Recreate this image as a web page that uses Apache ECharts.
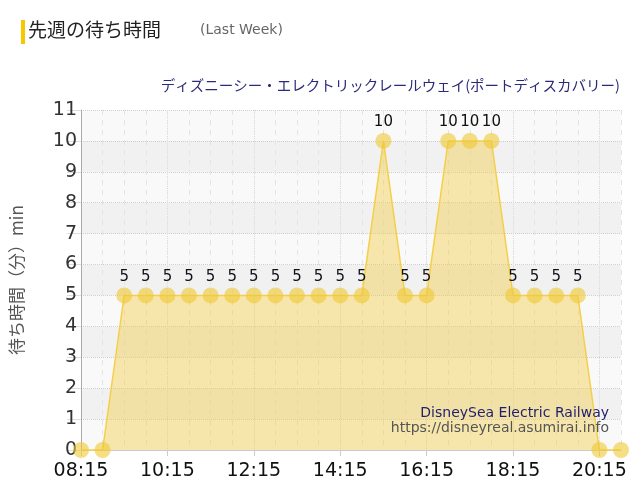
<!DOCTYPE html>
<html><head><meta charset="utf-8">
<script src="https://cdn.jsdelivr.net/npm/echarts@6/dist/echarts.min.js"></script>
<style>html,body{margin:0;padding:0;background:#fff}#c{width:640px;height:500px}</style>
</head><body><div id="c"></div>
<script>
const times = ['08:15','08:45','09:15','09:45','10:15','10:45','11:15','11:45','12:15','12:45','13:15','13:45','14:15','14:45','15:15','15:45','16:15','16:45','17:15','17:45','18:15','18:45','19:15','19:45','20:15','20:45'];
const waits = [0,0,5,5,5,5,5,5,5,5,5,5,5,5,10,5,5,10,10,10,5,5,5,5,0,0];
const yTicks = [0,1,2,3,4,5,6,7,8,9,10,11];
const titleText = '先週の待ち時間';
const titleSub = '(Last Week)';
const attraction = 'ディズニーシー・エレクトリックレールウェイ(ポートディスカバリー)';
const nameEn = 'DisneySea Electric Railway';
const site = 'https://disneyreal.asumirai.info';
const yName = '待ち時間（分）min';

const chart = echarts.init(document.getElementById('c'));
const jp = '"Noto Sans CJK JP", "DejaVu Sans", sans-serif';
const lat = '"DejaVu Sans", Verdana, sans-serif';
chart.setOption({
  animation: false,
  backgroundColor: '#fff',
  grid: {left: 80, right: 19, top: 110, bottom: 50},
  graphic: [
    {type: 'rect', left: 21, top: 20, shape: {width: 4, height: 24}, style: {fill: '#f5c800'}},
    {type: 'text', left: 28, top: 20, style: {text: titleText, font: '19px ' + jp, fill: '#222'}},
    {type: 'text', left: 200, top: 23, style: {text: titleSub, font: '14px ' + lat, fill: '#666'}},
    {type: 'text', right: 20, top: 78, style: {text: attraction, font: '14.5px ' + jp, fill: '#2b2a78'}},
    {type: 'text', right: 31, top: 406, z: 100, style: {text: nameEn, font: '14px ' + lat, fill: '#1f1e6e'}},
    {type: 'text', right: 31, top: 421, z: 100, style: {text: site, font: '14px ' + lat, fill: '#555'}}
  ],
  xAxis: [{
    type: 'category', data: times, boundaryGap: false,
    axisLine: {show: true, lineStyle: {color: '#ccc'}},
    axisTick: {show: true, interval: 3, length: 6, lineStyle: {color: '#ccc'}},
    axisLabel: {interval: 3, color: '#111', fontSize: 19, fontFamily: lat, margin: 12},
    splitLine: {show: true, interval: 3, lineStyle: {color: '#d8d8d8', type: 'dotted', width: 1}}
  }, {
    type: 'category', data: times, boundaryGap: false, position: 'bottom',
    axisLine: {show: false}, axisTick: {show: false}, axisLabel: {show: false},
    splitLine: {show: true, interval: 0, lineStyle: {color: '#e4e4e4', type: [5, 5], width: 1}}
  }],
  yAxis: {
    type: 'value', min: 0, max: 11, interval: 1,
    name: yName, nameLocation: 'middle', nameGap: 56,
    nameTextStyle: {color: '#555', fontSize: 17, fontFamily: jp},
    axisLine: {show: true, lineStyle: {color: '#aaa'}},
    axisTick: {show: true, length: 14, lineStyle: {color: '#ddd'}},
    axisLabel: {color: '#333', fontSize: 19, fontFamily: lat, margin: 4,
      formatter: v => yTicks.includes(v) ? String(v) : ''},
    splitLine: {show: true, lineStyle: {color: '#cfcfcf', type: 'dotted'}},
    splitArea: {show: true, areaStyle: {color: ['#f9f9f9', '#f1f1f1']}}
  },
  series: [{
    type: 'line', data: waits, xAxisIndex: 0,
    symbol: 'circle', symbolSize: 16, showSymbol: true, showAllSymbol: true,
    itemStyle: {color: 'rgba(240,200,50,0.6)'},
    lineStyle: {color: '#f5cf4a', width: 1.5},
    areaStyle: {color: 'rgba(242,205,70,0.62)'},
    labelLayout: {hideOverlap: false},
    label: {show: true, position: 'top', distance: 3, color: '#111', fontSize: 15, fontFamily: lat,
      formatter: p => p.value > 0 ? String(p.value) : ''}
  }]
});
</script></body></html>
